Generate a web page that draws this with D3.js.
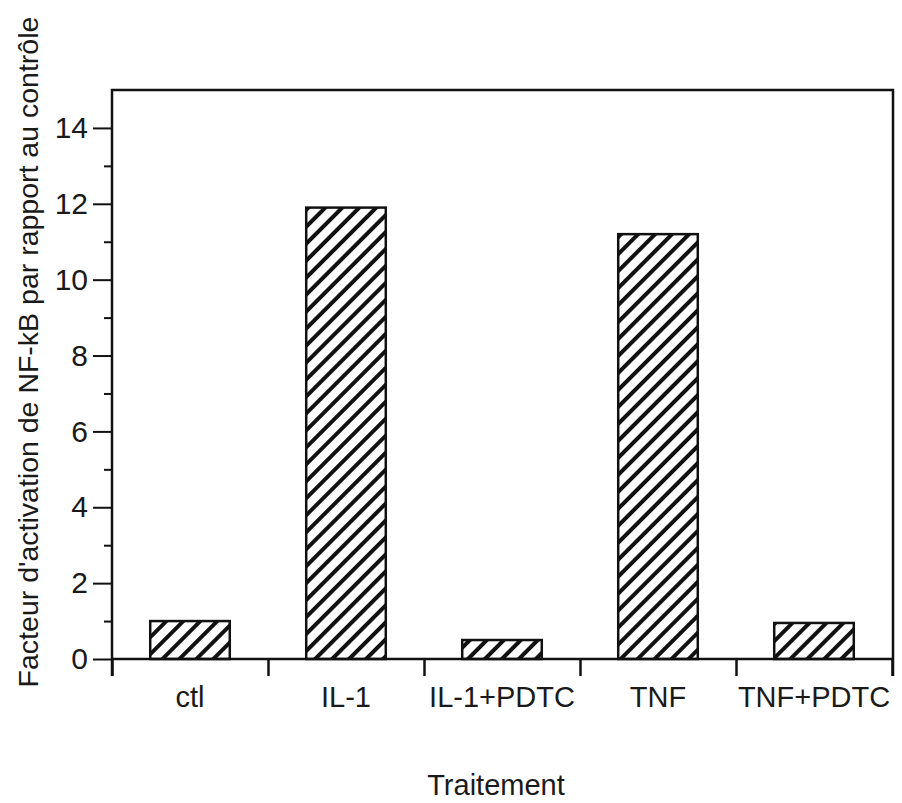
<!DOCTYPE html>
<html>
<head>
<meta charset="utf-8">
<script src="https://cdn.jsdelivr.net/npm/d3@7"></script>
<style>
  body { margin: 0; background: #fff; }
  text { font-family: "Liberation Sans", Arial, Helvetica, sans-serif; fill: #1a1a1a; }
</style>
</head>
<body>
<div id="chart"></div>
<script>
// données
const categories = ["ctl", "IL-1", "IL-1+PDTC", "TNF", "TNF+PDTC"];
const values     = [1.0, 11.9, 0.5, 11.2, 0.95];
const yTicks     = [0, 2, 4, 6, 8, 10, 12, 14];
const yMinor     = [1, 3, 5, 7, 9, 11, 13];
const yLabel     = "Facteur d'activation de NF-kB par rapport au contrôle";
const xLabel     = "Traitement";

// 1. dimensions
const W = 902, H = 803;
const margin = { top: 90, right: 10, bottom: 144, left: 112 },
      width  = 892 - margin.left,
      height = 659 - margin.top;

const svg = d3.select("#chart")
  .append("svg")
    .attr("width", W)
    .attr("height", H);

// motif hachuré
const defs = svg.append("defs");
defs.append("pattern")
    .attr("id", "hatch")
    .attr("patternUnits", "userSpaceOnUse")
    .attr("width", 12)
    .attr("height", 12)
    .attr("patternTransform", "rotate(45)")
  .append("line")
    .attr("x1", 6).attr("y1", 0)
    .attr("x2", 6).attr("y2", 12)
    .attr("stroke", "#111")
    .attr("stroke-width", 4);

const g = svg.append("g")
    .attr("transform", `translate(${margin.left}, ${margin.top})`);

// 2. échelles
const x = d3.scaleBand()
  .domain(categories)
  .range([0, width])
  .paddingInner(0.49)
  .paddingOuter(0.245);

const xEdge = d3.scaleLinear()
  .domain([0, categories.length])
  .range([0, width]);

const y = d3.scaleLinear()
  .domain([0, 15])
  .range([height, 0]);

// 3. barres
g.selectAll("rect.bar")
  .data(values)
  .enter()
  .append("rect")
    .attr("class", "bar")
    .attr("x", (d, i) => x(categories[i]))
    .attr("y", d => y(d))
    .attr("width", x.bandwidth())
    .attr("height", d => y(0) - y(d))
    .attr("fill", "url(#hatch)")
    .attr("stroke", "#111")
    .attr("stroke-width", 2.5);

// 4. axe Y (graduations majeures + mineures)
const yAxis = g.append("g")
  .call(d3.axisLeft(y).tickValues(yTicks).tickSize(19).tickPadding(5));
yAxis.select(".domain").remove();
yAxis.selectAll("line").attr("stroke", "#111").attr("stroke-width", 2);
yAxis.selectAll("text").attr("font-size", 30).attr("fill", "#1a1a1a");

const yAxisMinor = g.append("g")
  .call(d3.axisLeft(y).tickValues(yMinor).tickSize(8).tickFormat(""));
yAxisMinor.select(".domain").remove();
yAxisMinor.selectAll("line").attr("stroke", "#111").attr("stroke-width", 2);

// 5. axe X : graduations aux limites des catégories, étiquettes centrées
const xTicks = g.append("g")
  .attr("transform", `translate(0, ${height})`)
  .call(d3.axisBottom(xEdge).tickValues(d3.range(categories.length + 1)).tickSize(17).tickFormat(""));
xTicks.select(".domain").remove();
xTicks.selectAll("line").attr("stroke", "#111").attr("stroke-width", 2.5);

const xAxis = g.append("g")
  .attr("transform", `translate(0, ${height})`)
  .call(d3.axisBottom(x).tickSize(0).tickPadding(27));
xAxis.select(".domain").remove();
xAxis.selectAll("text").attr("font-size", 29).attr("fill", "#1a1a1a");

// 6. cadre
g.append("path")
  .attr("d", `M0,${height + 17}V0H${width + 1}V${height + 17}`)
  .attr("fill", "none")
  .attr("stroke", "#111")
  .attr("stroke-width", 2.5);
g.append("line")
  .attr("x1", 0).attr("x2", width + 1)
  .attr("y1", height).attr("y2", height)
  .attr("stroke", "#111")
  .attr("stroke-width", 2.5);

// 7. titres des axes
svg.append("text")
  .attr("transform", "translate(38, 352) rotate(-90)")
  .attr("text-anchor", "middle")
  .attr("font-size", 28.5)
  .text(yLabel);

svg.append("text")
  .attr("x", 496)
  .attr("y", 795)
  .attr("text-anchor", "middle")
  .attr("font-size", 29)
  .text(xLabel);
</script>
</body>
</html>
